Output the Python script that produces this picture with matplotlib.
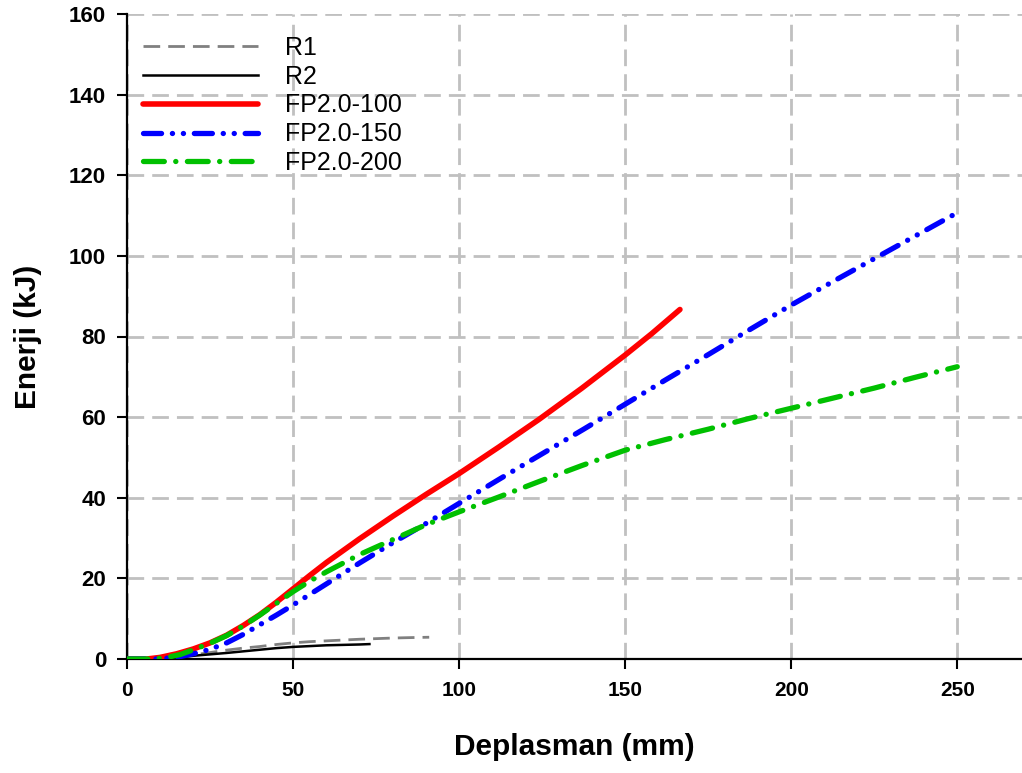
import matplotlib
matplotlib.use("Agg")
import matplotlib.pyplot as plt
from matplotlib.ticker import MultipleLocator

plt.rcParams["font.family"] = ["Liberation Sans", "DejaVu Sans"]
plt.rcParams["lines.scale_dashes"] = False

# Energy (kJ) versus displacement (mm)
x_r1 = [0, 10, 15, 20, 25, 30, 35, 40, 45, 50, 55, 60, 65, 70, 75, 80, 85, 91]
y_r1 = [0, 0, 0.4, 1.0, 1.6, 2.2, 2.7, 3.1, 3.6, 4.0, 4.3, 4.5, 4.7, 4.9, 5.05, 5.2, 5.3, 5.4]

x_r2 = [0, 12, 16, 20, 25, 30, 35, 40, 45, 50, 55, 60, 65, 70, 73]
y_r2 = [0, 0, 0.4, 0.8, 1.15, 1.5, 1.9, 2.3, 2.7, 3.0, 3.2, 3.4, 3.5, 3.6, 3.7]

x_fp100 = [0, 6, 10, 15, 20, 25, 30, 35, 40, 45, 50, 55, 60, 70, 80, 90, 100,
           112, 124, 137, 150, 158, 166.5]
y_fp100 = [0, 0, 0.4, 1.3, 2.5, 4.0, 5.9, 8.3, 11.0, 14.1, 17.4, 20.7, 23.9,
           29.8, 35.4, 40.8, 46.0, 52.6, 59.4, 67.2, 75.4, 80.7, 86.7]

x_fp150 = [0, 9, 12, 16, 20, 25, 30, 35, 40, 45, 50, 60, 70, 80, 90, 100,
           112.5, 125, 137.5, 150, 162.5, 175, 187.5, 200, 212.5, 225, 237.5, 250]
y_fp150 = [0, 0, 0.2, 0.6, 1.3, 2.4, 4.0, 6.1, 8.5, 10.9, 13.4, 18.6, 23.8,
           28.8, 33.6, 38.6, 44.8, 50.9, 57.0, 63.2, 69.4, 75.5, 81.7, 87.8,
           93.6, 99.3, 105.0, 110.7]

x_fp200 = [0, 8, 12, 16, 20, 25, 30, 35, 40, 45, 50, 55, 60, 70, 80, 90, 100,
           112, 124, 137, 150, 162, 175, 187, 200, 212, 225, 237, 250]
y_fp200 = [0, 0, 0.4, 1.1, 2.3, 3.9, 5.8, 8.2, 10.9, 13.8, 16.7, 19.3, 21.6,
           25.9, 29.6, 33.3, 36.5, 40.2, 44.0, 48.0, 51.8, 54.4, 57.0, 59.6,
           62.2, 64.6, 67.2, 69.8, 72.5]

labels = ["R1", "R2", "FP2.0-100", "FP2.0-150", "FP2.0-200"]

W, H = 1022, 773
fig = plt.figure(figsize=(W / 100, H / 100), dpi=100)
ax_l, ax_b, ax_r, ax_t = 127, 659, 1022, 14
ax = fig.add_axes([ax_l / W, (H - ax_b) / H, (ax_r - ax_l) / W, (ax_b - ax_t) / H])

ax.plot(x_r1, y_r1, color="#808080", lw=2.0, linestyle=(0, (12, 5.8)),
        label=labels[0], zorder=3)
ax.plot(x_r2, y_r2, color="black", lw=1.8, linestyle="-", label=labels[1], zorder=3)
ax.plot(x_fp100, y_fp100, color="#ff0000", lw=4.0, linestyle="-",
        solid_capstyle="round", solid_joinstyle="round", label=labels[2], zorder=4)
ax.plot(x_fp150, y_fp150, color="#0000ff", lw=3.8,
        linestyle=(0, (13, 7.8, 0.1, 7.8, 0.1, 7.8)),
        dash_capstyle="round", label=labels[3], zorder=4)
ax.plot(x_fp200, y_fp200, color="#00c000", lw=3.8,
        linestyle=(0, (15, 8.2, 0.1, 8.3)),
        dash_capstyle="round", label=labels[4], zorder=5)

ax.set_xlim(0, 269.5)
ax.set_ylim(0, 160)
ax.xaxis.set_major_locator(MultipleLocator(50))
ax.yaxis.set_major_locator(MultipleLocator(20))

ax.set_axisbelow(True)
ax.grid(True, color="#c0c0c0", lw=2.0, linestyle=(0, (12, 5.8)))

for s in ("top", "right"):
    ax.spines[s].set_visible(False)
for s in ("left", "bottom"):
    ax.spines[s].set_linewidth(1.6)
    ax.spines[s].set_color("black")

ax.tick_params(axis="both", direction="out", length=7, width=1.5, color="black")
ax.tick_params(axis="y", pad=8, labelsize=16)
ax.tick_params(axis="x", pad=9, labelsize=15)
for lab in ax.get_xticklabels() + ax.get_yticklabels():
    lab.set_fontweight("bold")

ax.set_xlabel("Deplasman (mm)", fontsize=21.5, fontweight="bold")
ax.set_ylabel("Enerji (kJ)", fontsize=21.5, fontweight="bold")
ax.xaxis.set_label_coords(0.5, -0.115)
ax.yaxis.set_label_coords(-0.095, 0.5)

leg = ax.legend(loc="upper left", bbox_to_anchor=(143 / W, 1 - 36 / H),
                bbox_transform=fig.transFigure, frameon=False,
                fontsize=18, handlelength=4.6, handletextpad=1.08,
                labelspacing=0.19, borderpad=0, borderaxespad=0)

fig.savefig("out.png", dpi=100)
